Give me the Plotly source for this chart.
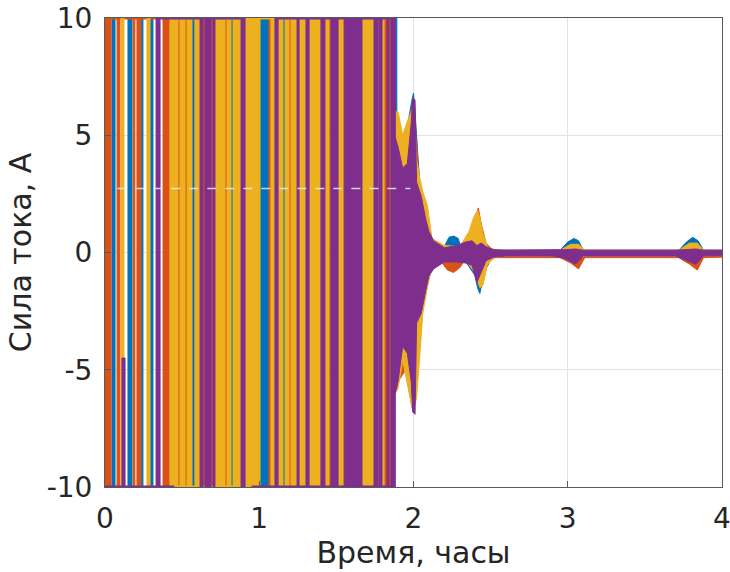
import plotly.graph_objects as go

# ---- Data: control currents of four channels (hours, amperes) ----
colors = {"ch1": "#0072BD", "ch2": "#D95319", "ch3": "#EDB120", "ch4": "#7E2F8E"}

# Relay (bang-bang) phase: intervals where a channel chatters between -10 and +10 A
ch1_bands = [(0.045, 0.065), (0.149, 0.175), (0.233, 0.246), (0.292, 0.311),
             (0.564, 0.583), (0.817, 0.830), (1.005, 1.063), (1.154, 1.167)]
ch2_bands = [(0.000, 0.039), (0.078, 0.097), (0.182, 0.194), (0.207, 0.233),
             (0.376, 0.421), (0.473, 0.486), (0.519, 0.532), (0.635, 0.648),
             (0.687, 0.700), (0.778, 0.791), (1.063, 1.076), (1.193, 1.206),
             (1.452, 1.465), (1.809, 1.828), (1.841, 1.854)]
ch3_bands = [(0.104, 0.123), (0.272, 0.292), (0.421, 0.473), (0.486, 0.519),
             (0.532, 0.564), (0.583, 0.616), (0.713, 0.778), (0.791, 0.817),
             (0.830, 0.882), (0.908, 1.005), (1.076, 1.102), (1.122, 1.154),
             (1.167, 1.193), (1.206, 1.245), (1.258, 1.303), (1.323, 1.400),
             (1.426, 1.452), (1.511, 1.550), (1.666, 1.744), (1.770, 1.776),
             (1.796, 1.809)]
ch4_bands = [(0.331, 0.357), (0.616, 0.635), (0.648, 0.687), (0.700, 0.713),
             (0.882, 0.908), (1.102, 1.122), (1.245, 1.258), (1.303, 1.323),
             (1.400, 1.426), (1.465, 1.511), (1.550, 1.666), (1.744, 1.770),
             (1.776, 1.796), (1.828, 1.841), (1.854, 1.882)]
# Partial strokes: (t0, t1, i_low, i_high)
ch1_partial = [(1.882, 1.892, 1.0, 10.0)]
ch4_partial = [(0.110, 0.130, -10.0, -4.5)]

# Saturated stretches held at the limits (t0, t1)
ch2_top = [(0.00, 0.34)]
ch3_top = [(0.42, 1.88)]
ch4_top = [(0.34, 0.89), (1.115, 1.87)]
ch3_bottom = [(0.45, 0.95)]
ch4_bottom = [(0.00, 0.45), (0.95, 1.87)]

# Linear phase: envelope of the current (time, upper, lower)
ch1_t = [1.882, 1.90, 1.95, 1.99, 2.000, 2.01, 2.04, 2.09, 2.13, 2.20, 2.23, 2.26, 2.29, 2.31,
         2.36, 2.40, 2.415, 2.43, 2.46, 2.52, 2.95, 3.00, 3.04, 3.07, 3.10, 3.72, 3.77, 3.81,
         3.845, 3.88, 4.00]
ch1_up = [5.0, 5.0, 5.0, 6.5, 6.8, 6.0, 3.0, 1.2, 0.4, 0.25, 0.65, 0.7, 0.6, 0.15,
          0.6, 1.2, 1.5, 1.0, 0.4, 0.1, 0.1, 0.45, 0.6, 0.5, 0.1, 0.1, 0.45, 0.65,
          0.5, 0.1, 0.1]
ch1_lo = [-5.0, -5.0, -5.0, -6.6, -6.8, -6.2, -3.0, -1.2, -0.4, -0.15, 0.2, 0.3, 0.2, -0.15,
          -0.6, -1.0, -1.5, -1.75, -0.8, -0.1, -0.1, 0.1, 0.3, 0.2, -0.1, -0.1, 0.1, 0.35,
          0.2, -0.1, -0.1]

ch2_t = [1.882, 1.90, 1.95, 1.99, 2.01, 2.04, 2.08, 2.12, 2.18, 2.22, 2.26, 2.30, 2.33, 2.37,
         2.40, 2.42, 2.44, 2.47, 2.52, 2.95, 3.02, 3.07, 3.11, 3.72, 3.79, 3.84, 3.88, 4.00]
ch2_up = [5.0, 5.0, 5.0, 6.2, 5.5, 2.8, 1.0, 0.3, 0.05, 0.0, -0.1, 0.0, 0.15, 0.8,
          1.4, 1.9, 1.2, 0.4, 0.05, 0.05, 0.0, 0.0, 0.05, 0.05, 0.0, 0.0, 0.05, 0.05]
ch2_lo = [-6.0, -5.5, -5.0, -6.3, -6.0, -3.0, -1.3, -0.5, -0.4, -0.75, -0.85, -0.65, -0.35, -0.6,
          -0.9, -1.1, -1.5, -0.6, -0.22, -0.22, -0.45, -0.7, -0.22, -0.22, -0.5, -0.75, -0.22, -0.2]

ch3_t = [1.882, 1.90, 1.93, 1.96, 1.99, 2.005, 2.02, 2.04, 2.06, 2.09, 2.12, 2.20, 2.30, 2.36,
         2.39, 2.415, 2.43, 2.45, 2.48, 2.53, 2.60, 2.95, 3.02, 3.07, 3.11, 3.72, 3.79, 3.84,
         3.88, 4.00]
ch3_up = [6.0, 6.0, 5.0, 5.6, 6.05, 5.5, 4.0, 3.2, 2.6, 2.0, 0.6, 0.3, 0.25, 0.9,
          1.5, 1.8, 1.5, 0.8, 0.25, 0.12, 0.1, 0.1, 0.35, 0.35, 0.1, 0.1, 0.4, 0.4,
          0.1, 0.1]
ch3_lo = [-6.0, -5.8, -4.6, -5.6, -6.6, -6.6, -6.2, -4.5, -2.6, -1.5, -0.6, -0.35, -0.3, -0.5,
          -0.8, -1.2, -1.5, -1.4, -0.5, -0.2, -0.15, -0.15, -0.15, -0.25, -0.15, -0.15, -0.2, -0.25,
          -0.15, -0.12]

ch4_t = [1.882, 1.90, 1.93, 1.96, 1.985, 1.995, 2.010, 2.020, 2.05, 2.08, 2.10, 2.13, 2.20,
         2.28, 2.34, 2.38, 2.41, 2.44, 2.47, 2.52, 2.60, 2.90, 2.98, 3.05, 3.10, 3.70, 3.77,
         3.83, 3.88, 4.00]
ch4_up = [4.9, 4.5, 3.6, 3.8, 5.5, 6.6, 6.5, 3.0, 2.4, 1.4, 0.9, 0.5, 0.2,
          0.3, 0.45, 0.5, 0.3, 0.4, 0.25, 0.12, 0.1, 0.1, 0.12, 0.15, 0.1, 0.1, 0.12,
          0.15, 0.1, 0.1]
ch4_lo = [-6.0, -5.5, -4.0, -4.3, -5.5, -6.8, -6.9, -3.0, -2.6, -1.6, -1.0, -0.7, -0.4,
          -0.4, -0.45, -0.55, -1.3, -0.8, -0.35, -0.2, -0.15, -0.15, -0.25, -0.5, -0.15, -0.15, -0.35,
          -0.5, -0.15, -0.12]

# Faint dotted reference level crossing the relay phase
ref_t = [0.08, 1.98]
ref_level = [2.73, 2.73]

x_ticks = [0, 1, 2, 3, 4]
y_ticks = [-10, -5, 0, 5, 10]
y_labels = ["-10", "-5", "0", "5", "10"]
I_MAX = 10.0


def band_shapes(bands, partial=()):
    xs, ys = [], []
    for t0, t1 in bands:
        xs += [t0, t1, t1, t0, t0, None]
        ys += [-I_MAX, -I_MAX, I_MAX, I_MAX, -I_MAX, None]
    for t0, t1, lo, hi in partial:
        xs += [t0, t1, t1, t0, t0, None]
        ys += [lo, lo, hi, hi, lo, None]
    return xs, ys


def envelope_shape(t, up, lo):
    return list(t) + list(t[::-1]) + [t[0]], list(up) + list(lo[::-1]) + [up[0]]


def limit_lines(segs, level):
    xs, ys = [], []
    for t0, t1 in segs:
        xs += [t0, t1, None]
        ys += [level, level, None]
    return xs, ys


fig = go.Figure()

channels = [
    ("ch1", ch1_bands, ch1_partial, ch1_t, ch1_up, ch1_lo, [], []),
    ("ch2", ch2_bands, (), ch2_t, ch2_up, ch2_lo, ch2_top, []),
    ("ch3", ch3_bands, (), ch3_t, ch3_up, ch3_lo, ch3_top, ch3_bottom),
    ("ch4", ch4_bands, ch4_partial, ch4_t, ch4_up, ch4_lo, ch4_top, ch4_bottom),
]

for name, bands, partial, t, up, lo, top, bottom in channels:
    c = colors[name]
    bx, by = band_shapes(bands, partial)
    fig.add_trace(go.Scatter(x=bx, y=by, mode="lines", fill="toself", fillcolor=c,
                             line=dict(color=c, width=1), hoverinfo="skip"))
    ex, ey = envelope_shape(t, up, lo)
    fig.add_trace(go.Scatter(x=ex, y=ey, mode="lines", fill="toself", fillcolor=c,
                             line=dict(color=c, width=1), hoverinfo="skip"))
    for segs, lvl in ((top, I_MAX), (bottom, -I_MAX)):
        if segs:
            lx, ly = limit_lines(segs, lvl)
            fig.add_trace(go.Scatter(x=lx, y=ly, mode="lines",
                                     line=dict(color=c, width=3), hoverinfo="skip"))

fig.add_trace(go.Scatter(x=ref_t, y=ref_level, mode="lines",
                         line=dict(color="rgba(225,238,246,0.85)", width=1.5, dash="dash"),
                         hoverinfo="skip"))

axis_common = dict(showgrid=True, gridcolor="#e3e3e3", gridwidth=1, zeroline=False,
                   showline=True, linecolor="#5a5a5a", linewidth=1, mirror=True,
                   ticks="inside", ticklen=6, tickcolor="#5a5a5a", automargin=False,
                   ticklabeloverflow="allow",
                   tickfont=dict(size=28, color="#262626"))

fig.update_xaxes(range=[0, 4], tickvals=x_ticks, ticklabelstandoff=6,
                 title=dict(text="Время, часы", font=dict(size=30, color="#262626"), standoff=8),
                 **axis_common)
fig.update_yaxes(range=[-10, 10], tickvals=y_ticks, ticktext=y_labels, ticklabelstandoff=6,
                 title=dict(text="Сила тока, А", font=dict(size=30, color="#262626"), standoff=6),
                 **axis_common)

fig.update_layout(width=730, height=572, margin=dict(l=105, r=8, t=18, b=85),
                  plot_bgcolor="white", paper_bgcolor="white", showlegend=False,
                  font=dict(family="DejaVu Sans", color="#262626"))

fig.write_html("out.html")
